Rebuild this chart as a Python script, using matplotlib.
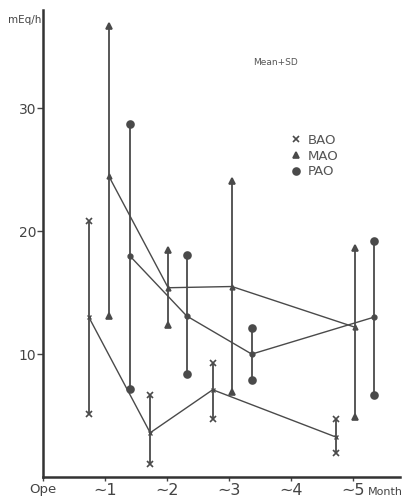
import matplotlib.pyplot as plt
import numpy as np

# values (mean, mean+SD, mean-SD) per group
bao_x = [0.74, 1.73, 2.74, 4.73]
bao_mean = [13.0, 3.6, 7.1, 3.25]
bao_hi = [20.8, 6.7, 9.3, 4.7]
bao_lo = [5.1, 1.05, 4.7, 1.95]

mao_x = [1.06, 2.02, 3.05, 5.03]
mao_mean = [24.5, 15.4, 15.5, 12.2]
mao_hi = [36.7, 18.5, 24.1, 18.6]
mao_lo = [13.1, 12.4, 6.9, 4.9]

pao_x = [1.40, 2.32, 3.37, 5.34]
pao_mean = [18.0, 13.1, 10.0, 13.0]
pao_hi = [28.7, 18.1, 12.1, 19.2]
pao_lo = [7.2, 8.4, 7.9, 6.7]

xticks = [0, 1, 2, 3, 4, 5]
xlabels = ['Ope', '∼1', '∼2', '∼3', '∼4', '∼5']
yticks = [10, 20, 30]

col = '#4a4a4a'

fig = plt.figure(figsize=(4.1, 5), dpi=100)
ax = fig.add_axes([0.105, 0.046, 0.87, 0.934])

series = [
    (bao_x, bao_mean, bao_hi, bao_lo, 'x', 5, 'BAO'),
    (mao_x, mao_mean, mao_hi, mao_lo, '^', 5, 'MAO'),
    (pao_x, pao_mean, pao_hi, pao_lo, 'o', 5, 'PAO'),
]
handles = []
for xs, m, hi, lo, mk, ms, name in series:
    ax.plot(xs, m, color=col, lw=1.0)
    ax.vlines(xs, lo, hi, color=col, lw=1.3)
    ax.plot(xs, hi, ls='none', marker=mk, ms=ms, color=col, mew=1.2)
    ax.plot(xs, lo, ls='none', marker=mk, ms=ms, color=col, mew=1.2)
    ax.plot(xs, m, ls='none', marker=mk, ms=ms - 1.5, color=col, mew=1.0)
    h, = ax.plot([], [], ls='none', marker=mk, ms=ms, color=col, mew=1.2, label=name)
    handles.append(h)

ax.set_xlim(0, 5.76)
ax.set_ylim(0, 38)
ax.spines['top'].set_visible(False)
ax.spines['right'].set_visible(False)
ax.spines['left'].set_linewidth(1.8)
ax.spines['bottom'].set_linewidth(1.8)
ax.spines['left'].set_color('#333333')
ax.spines['bottom'].set_color('#333333')

ax.set_yticks(yticks)
ax.set_yticklabels([str(v) for v in yticks], fontsize=10, color='#444444')
ax.set_xticks(xticks)
ax.set_xticklabels(xlabels, fontsize=11.5, color='#444444')
ax.xaxis.get_ticklabels()[0].set_fontsize(9.5)
ax.tick_params(axis='y', length=4, width=1, color='#444444', pad=1)
ax.tick_params(axis='x', length=3, width=1, color='#444444', pad=1)

ax.text(-0.03, 37.2, 'mEq/h', ha='right', va='center', fontsize=7.5, color='#444444')
ax.text(5.52, -1.2, 'Month', ha='center', va='center', fontsize=8,
        color='#444444', clip_on=False)
ax.text(3.4, 33.7, 'Mean+SD', ha='left', va='center', fontsize=6.5, color='#555555')

ax.legend(handles=handles, loc='upper left', bbox_to_anchor=(0.66, 0.76),
          frameon=False, fontsize=9.5, handlelength=0.8, handletextpad=0.5,
          labelspacing=0.2, labelcolor='#555555')

plt.savefig('out.png', dpi=100)
